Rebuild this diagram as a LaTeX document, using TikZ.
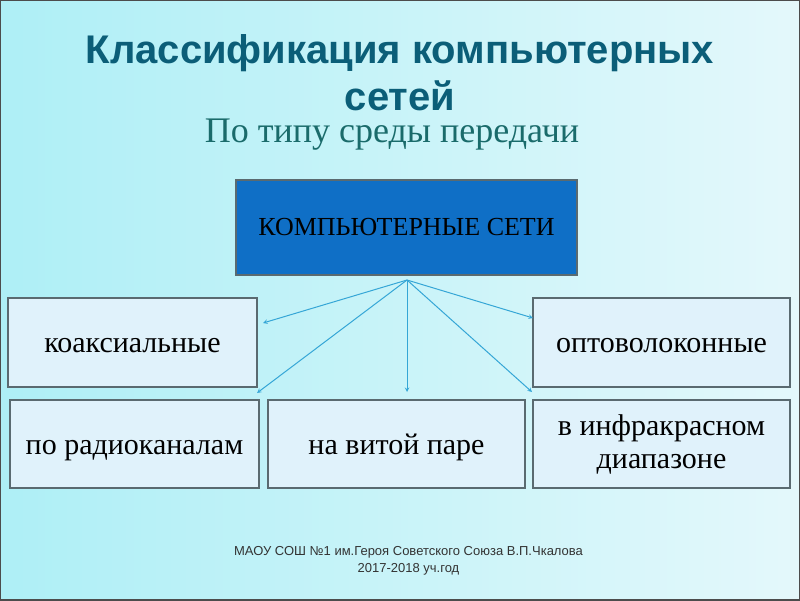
\documentclass[tikz,border=0pt]{standalone}
\usepackage{fontspec}
\setmainfont{Liberation Serif}
\newfontfamily\headfont{Liberation Sans}
\usepackage{tikz}

\definecolor{bgleft}{HTML}{AEEFF6}
\definecolor{bgright}{HTML}{E4F8FB}
\definecolor{titleblue}{HTML}{0B5E78}
\definecolor{subteal}{HTML}{1A6B6B}
\definecolor{mainfill}{HTML}{0F6FC6}
\definecolor{boxfill}{HTML}{E0F2FB}
\definecolor{boxline}{HTML}{5A6A70}
\definecolor{arrowblue}{HTML}{35A6D6}

\tikzset{
  kind/.style = {draw = boxline, line width = 1.2, fill = boxfill, align = center,
    font = \fontsize{30}{33}\selectfont, inner sep = 0},
  oneline/.style = {text height = 25, text depth = 5},
  link/.style = {->, > = stealth, draw = arrowblue, line width = 1}
}

\begin{document}
\begin{tikzpicture}[x = 1pt, y = -1pt]
\useasboundingbox (0,0) rectangle (800,600);
\shade [left color = bgleft, right color = bgright] (0,0) rectangle (800,600);
\draw [gray!60!black, line width = 2] (0,0) rectangle (800,600);

\node (title) at (400,72.5) [align = center, inner sep = 0, text = titleblue,
  font = \headfont\bfseries\fontsize{40}{47}\selectfont]
  {Классификация компьютерных\\ сетей};
\node (sub) at (392,142) [anchor = base, inner sep = 0, text height = 24, text depth = 8,
  text = subteal, font = \fontsize{36}{40}\selectfont]
  {По типу среды передачи};

\node (nets) at (406.5,227.5) [draw = boxline, line width = 1.2, fill = mainfill,
  minimum width = 341, minimum height = 95, font = \fontsize{26}{30}\selectfont]
  {КОМПЬЮТЕРНЫЕ СЕТИ};

\node (koax) at (132.5,342.5) [kind, oneline, minimum width = 249, minimum height = 89] {коаксиальные};
\node (optic) at (661.5,342.5) [kind, oneline, minimum width = 257, minimum height = 89] {оптоволоконные};
\node (radio) at (134.5,444) [kind, oneline, minimum width = 249, minimum height = 88] {по радиоканалам};
\node (pair) at (396.5,444) [kind, oneline, minimum width = 257, minimum height = 88] {на витой паре};
\node (infra) at (661.5,444) [kind, minimum width = 257, minimum height = 88]
  {в инфракрасном\\ диапазоне};

\coordinate (hub) at (407,280);
\coordinate (tokoax) at (263,323);
\coordinate (toradio) at (257,393);
\coordinate (topair) at (407,392);
\coordinate (tooptic) at (533,318);
\coordinate (toinfra) at (532,392);
\draw [link] (hub) -- (tokoax);
\draw [link] (hub) -- (toradio);
\draw [link] (hub) -- (topair);
\draw [link] (hub) -- (tooptic);
\draw [link] (hub) -- (toinfra);

\node (footer) at (408.5,561) [align = center, text = black!80,
  font = \headfont\fontsize{13}{17}\selectfont]
  {МАОУ СОШ №1 им.Героя Советского Союза В.П.Чкалова\\ 2017-2018 уч.год};
\end{tikzpicture}
\end{document}
